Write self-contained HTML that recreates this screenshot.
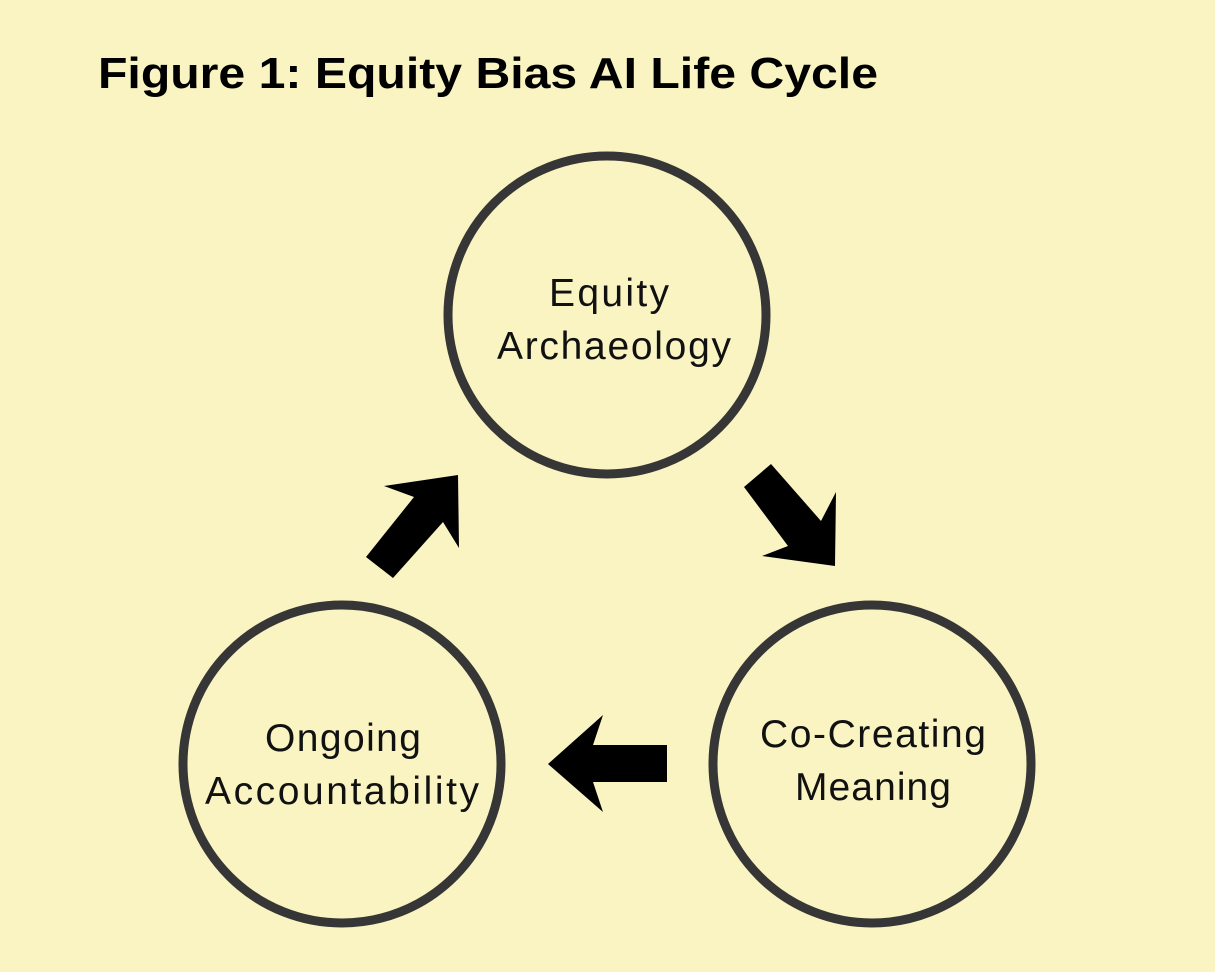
<!DOCTYPE html>
<html><head><style>
html,body{margin:0;padding:0;background:#f9f4c1;}
</style></head><body>
<svg width="1215" height="972" viewBox="0 0 1215 972" xmlns="http://www.w3.org/2000/svg" style="display:block">
<rect width="1215" height="972" fill="#f9f4c1"/>
<text x="98" y="88" font-family="Liberation Sans, sans-serif" font-weight="bold" font-size="44" fill="#000" textLength="780" lengthAdjust="spacingAndGlyphs">Figure 1:  Equity Bias AI Life Cycle</text>
<g fill="none" stroke="#363636" stroke-width="9">
<circle cx="607" cy="315" r="159"/>
<circle cx="342" cy="764" r="159"/>
<circle cx="872" cy="764" r="159"/>
</g>
<g font-family="Liberation Sans, sans-serif" font-size="39" fill="#111" lengthAdjust="spacingAndGlyphs">
<text x="549" y="306" textLength="120">Equity</text>
<text x="497" y="359" textLength="234">Archaeology</text>
<text x="265" y="751" textLength="156">Ongoing</text>
<text x="205" y="804" textLength="274">Accountability</text>
<text x="760" y="747" textLength="226">Co-Creating</text>
<text x="795" y="800" textLength="156">Meaning</text>
</g>
<g fill="#000">
<polygon points="458,475 384,486 414,497 366,557 393,578 443,522 459,548"/>
<polygon points="744,487 771,464 821,521 836,492 835,566 762,556 788,546"/>
<polygon points="548,764 603,715 593,745 667,745 667,782 593,782 603,812"/>
</g>
</svg>
</body></html>
